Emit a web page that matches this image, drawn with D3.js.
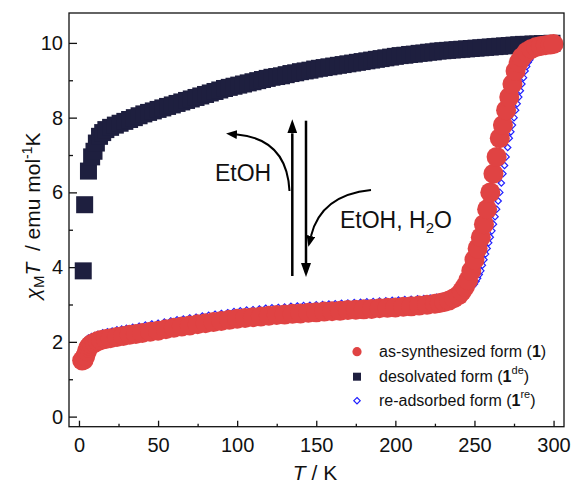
<!DOCTYPE html>
<html>
<head>
<meta charset="utf-8">
<script src="https://cdn.jsdelivr.net/npm/d3@7"></script>
<style>
body { margin: 0; background: #fff; }
svg { font-family: "Liberation Sans", Arial, sans-serif; }
</style>
</head>
<body>
<svg id="chart" width="571" height="486"></svg>
<script>
// desolvated form (1de), navy squares
var desT = [2.7, 3.6, 6, 8, 9.5, 11, 13, 15, 17, 20, 23, 26, 29, 32, 35, 38, 41, 44, 47, 50, 53, 56, 59, 62, 65, 68, 71, 74, 77, 80, 83, 86, 89, 92, 95, 98, 101, 104, 107, 110, 113, 116, 119, 122, 125, 128, 131, 134, 137, 140, 143, 146, 149, 152, 155, 158, 161, 164, 167, 170, 173, 176, 179, 182, 185, 188, 191, 194, 197, 200, 203, 206, 209, 212, 215, 218, 221, 224, 227, 230, 233, 236, 239, 242, 245, 248, 251, 254, 257, 260, 263, 266, 269, 272, 275, 278, 281, 284, 287, 290, 293, 296, 299];
var desChi = [3.9, 5.67, 6.57, 6.95, 7.1, 7.32, 7.5, 7.6, 7.68, 7.74, 7.8, 7.85, 7.9, 7.95, 8.0, 8.05, 8.1, 8.14, 8.18, 8.22, 8.26, 8.3, 8.34, 8.38, 8.42, 8.46, 8.5, 8.54, 8.58, 8.62, 8.66, 8.7, 8.74, 8.78, 8.81, 8.84, 8.87, 8.9, 8.93, 8.96, 8.99, 9.02, 9.05, 9.08, 9.1, 9.12, 9.15, 9.18, 9.2, 9.23, 9.25, 9.27, 9.3, 9.32, 9.34, 9.36, 9.38, 9.4, 9.42, 9.44, 9.46, 9.48, 9.5, 9.52, 9.54, 9.56, 9.58, 9.6, 9.62, 9.64, 9.66, 9.67, 9.69, 9.7, 9.72, 9.73, 9.75, 9.76, 9.78, 9.79, 9.8, 9.81, 9.82, 9.83, 9.84, 9.85, 9.86, 9.87, 9.88, 9.89, 9.9, 9.91, 9.92, 9.93, 9.94, 9.95, 9.96, 9.96, 9.97, 9.97, 9.98, 9.98, 9.99];

// as-synthesized form (1), red circles
var synT = [2, 3, 4, 5, 6, 7, 8, 10, 12, 14, 17, 20, 24, 28, 32, 36, 40, 45, 50, 55, 60, 65, 70, 75, 80, 85, 90, 95, 100, 105, 110, 115, 120, 125, 130, 135, 140, 145, 150, 155, 160, 165, 170, 175, 180, 185, 190, 195, 200, 205, 210, 215, 220, 225, 228, 231, 234, 237, 240, 242, 244, 246, 248, 250, 252, 254, 256, 258, 260, 262, 264, 266, 268, 270, 272, 274, 276, 278, 280, 283, 286, 289, 292, 295, 298, 300];
var synChi = [1.5, 1.52, 1.62, 1.75, 1.85, 1.9, 1.94, 1.98, 2.02, 2.05, 2.08, 2.1, 2.13, 2.16, 2.19, 2.21, 2.24, 2.27, 2.3, 2.34, 2.38, 2.41, 2.44, 2.47, 2.5, 2.53, 2.56, 2.59, 2.62, 2.64, 2.66, 2.68, 2.7, 2.72, 2.73, 2.75, 2.76, 2.78, 2.79, 2.81, 2.82, 2.83, 2.85, 2.86, 2.87, 2.88, 2.9, 2.91, 2.92, 2.94, 2.95, 2.97, 2.99, 3.02, 3.04, 3.07, 3.11, 3.17, 3.25, 3.35, 3.48, 3.65, 3.9, 4.2, 4.5, 4.8, 5.15, 5.55, 6.0, 6.5, 6.95, 7.45, 7.8, 8.2, 8.55, 8.9, 9.25, 9.48, 9.62, 9.76, 9.84, 9.89, 9.92, 9.94, 9.96, 9.97];

// re-adsorbed form (1re), open blue diamonds
var reT = [2, 3, 4, 5, 6, 8, 10, 12, 15, 18, 21, 24, 27, 30, 34, 38, 42, 46, 50, 54, 58, 62, 66, 70, 74, 78, 82, 86, 90, 94, 98, 102, 106, 110, 114, 118, 122, 126, 130, 134, 138, 142, 146, 150, 154, 158, 162, 166, 170, 174, 178, 182, 186, 190, 194, 198, 202, 206, 210, 214, 218, 222, 226, 230, 233, 236, 239, 241, 243, 245, 246, 247, 248, 249, 250, 251, 252, 253, 254, 255, 256, 257, 258, 259, 260, 261, 262, 263, 264, 265, 266, 267, 268, 269, 270, 271, 272, 273, 274, 275, 276, 277, 278, 279, 280, 281, 282, 283, 284, 285, 287, 290, 293, 296, 299];
var reChi = [1.75, 1.9, 2.0, 2.06, 2.1, 2.14, 2.17, 2.2, 2.24, 2.27, 2.29, 2.32, 2.34, 2.36, 2.39, 2.42, 2.45, 2.48, 2.5, 2.53, 2.56, 2.59, 2.61, 2.64, 2.66, 2.69, 2.71, 2.74, 2.76, 2.78, 2.81, 2.83, 2.85, 2.86, 2.88, 2.9, 2.91, 2.92, 2.93, 2.95, 2.96, 2.97, 2.98, 2.99, 3.0, 3.01, 3.02, 3.03, 3.04, 3.05, 3.06, 3.07, 3.08, 3.09, 3.1, 3.11, 3.12, 3.13, 3.14, 3.15, 3.16, 3.17, 3.19, 3.21, 3.23, 3.25, 3.28, 3.3, 3.33, 3.37, 3.39, 3.42, 3.46, 3.5, 3.55, 3.62, 3.7, 3.8, 3.9, 4.05, 4.2, 4.35, 4.5, 4.65, 4.8, 4.97, 5.15, 5.35, 5.55, 5.77, 6.0, 6.25, 6.5, 6.72, 6.95, 7.2, 7.45, 7.62, 7.8, 8.0, 8.2, 8.37, 8.55, 8.72, 8.9, 9.07, 9.25, 9.37, 9.48, 9.55, 9.68, 9.8, 9.88, 9.97, 10.0];

var xMajor = [0, 50, 100, 150, 200, 250, 300];
var xMinor = [25, 75, 125, 175, 225, 275];
var yMajor = [0, 2, 4, 6, 8, 10];
var yMinor = [1, 3, 5, 7, 9];

var svg = d3.select("#chart");

var x = d3.scaleLinear().domain([-6.3, 306.6]).range([69, 564]);
var y = d3.scaleLinear().domain([-0.27, 10.8]).range([426.7, 13]);

var red = "#e04343", navy = "#1e1f3f", blue = "#2020ff";

// axes, ticks inward
svg.append("g")
    .attr("transform", "translate(69,0)")
    .call(d3.axisLeft(y).tickValues(yMajor).tickSize(-8).tickPadding(6).tickFormat(d3.format("d")))
    .call(function(g){ g.select(".domain").remove(); });
svg.append("g")
    .attr("transform", "translate(69,0)")
    .call(d3.axisLeft(y).tickValues(yMinor).tickSize(-4).tickFormat(""))
    .call(function(g){ g.select(".domain").remove(); });
svg.append("g")
    .attr("transform", "translate(0,426.7)")
    .call(d3.axisBottom(x).tickValues(xMajor).tickSize(-6).tickPadding(11).tickFormat(d3.format("d")))
    .call(function(g){ g.select(".domain").remove(); });
svg.append("g")
    .attr("transform", "translate(0,426.7)")
    .call(d3.axisBottom(x).tickValues(xMinor).tickSize(-3).tickFormat(""))
    .call(function(g){ g.select(".domain").remove(); });

svg.selectAll(".tick text")
    .attr("font-size", 20)
    .attr("font-family", "Liberation Sans, Arial, sans-serif")
    .attr("fill", "#111");
svg.selectAll(".tick line").attr("stroke", "#111").attr("stroke-width", 1.3);

// data
svg.append("g").selectAll("rect")
    .data(d3.zip(desT, desChi))
    .enter().append("rect")
    .attr("x", function(d){ return x(d[0]) - 8.5; })
    .attr("y", function(d){ return y(d[1]) - 8.5; })
    .attr("width", 17)
    .attr("height", 17)
    .attr("fill", navy);

var diamond = d3.symbol().type(d3.symbolDiamond2).size(26);
svg.append("g").selectAll("path")
    .data(d3.zip(reT, reChi))
    .enter().append("path")
    .attr("d", diamond)
    .attr("transform", function(d){ return "translate(" + x(d[0]) + "," + y(d[1]) + ")"; })
    .attr("fill", "white")
    .attr("stroke", blue)
    .attr("stroke-width", 1.2);

svg.append("g").selectAll("circle")
    .data(d3.zip(synT, synChi))
    .enter().append("circle")
    .attr("cx", function(d){ return x(d[0]); })
    .attr("cy", function(d){ return y(d[1]); })
    .attr("r", 10)
    .attr("fill", red);

// frame
svg.append("rect")
    .attr("x", 69).attr("y", 13)
    .attr("width", 495).attr("height", 413.7)
    .attr("fill", "none")
    .attr("stroke", "#111")
    .attr("stroke-width", 1.3);

// arrows
var defs = svg.append("defs");
defs.append("marker")
    .attr("id", "headBig")
    .attr("markerUnits", "userSpaceOnUse")
    .attr("viewBox", "0 0 14 10")
    .attr("refX", 0).attr("refY", 5)
    .attr("markerWidth", 14).attr("markerHeight", 10)
    .attr("orient", "auto")
    .append("path").attr("d", "M0,0 L14,5 L0,10 Z").attr("fill", "#000");
defs.append("marker")
    .attr("id", "headSmall")
    .attr("markerUnits", "userSpaceOnUse")
    .attr("viewBox", "0 0 11 9")
    .attr("refX", 0).attr("refY", 4.5)
    .attr("markerWidth", 11).attr("markerHeight", 9)
    .attr("orient", "auto")
    .append("path").attr("d", "M0,0 L11,4.5 L0,9 Z").attr("fill", "#000");

var ann = svg.append("g").attr("fill", "none").attr("stroke", "#000");
ann.append("path").attr("d", "M292.3,276 L292.3,133.3")
    .attr("stroke-width", 2.5).attr("marker-end", "url(#headBig)");
ann.append("path").attr("d", "M306,120.7 L306,263")
    .attr("stroke-width", 2.5).attr("marker-end", "url(#headBig)");
ann.append("path").attr("d", "M289.5,191 Q287,139 237,134.5")
    .attr("stroke-width", 2).attr("marker-end", "url(#headSmall)");
ann.append("path").attr("d", "M371,190 Q321,195 311,236")
    .attr("stroke-width", 2).attr("marker-end", "url(#headSmall)");

svg.append("text")
    .attr("x", 215).attr("y", 181)
    .attr("font-size", 23)
    .attr("fill", "#111")
    .text("EtOH");
var t2 = svg.append("text")
    .attr("x", 340).attr("y", 228.3)
    .attr("font-size", 23)
    .attr("fill", "#111");
t2.append("tspan").text("EtOH, H");
t2.append("tspan").attr("font-size", 15).attr("dy", 5).text("2");
t2.append("tspan").attr("dy", -5).text("O");

// axis titles
var yl = svg.append("text")
    .attr("transform", "translate(40,216) rotate(-90)")
    .attr("text-anchor", "middle")
    .attr("font-size", 21)
    .attr("fill", "#111");
yl.append("tspan").attr("font-style", "italic").text("\u03c7");
yl.append("tspan").attr("font-size", 15).attr("dy", 4).text("M");
yl.append("tspan").attr("font-style", "italic").attr("dy", -4).text("T");
yl.append("tspan").text("\u00a0\u00a0/ emu mol");
yl.append("tspan").attr("font-size", 14).attr("dy", -8).text("-1");
yl.append("tspan").attr("dy", 8).text("K");

var xl = svg.append("text")
    .attr("x", 315).attr("y", 480)
    .attr("text-anchor", "middle")
    .attr("font-size", 21)
    .attr("fill", "#111");
xl.append("tspan").attr("font-style", "italic").text("T");
xl.append("tspan").text(" / K");

// legend
var leg = svg.append("g").attr("font-size", 16).attr("fill", "#111");
leg.append("circle").attr("cx", 357).attr("cy", 351.7).attr("r", 4.6).attr("fill", red);
leg.append("rect").attr("x", 353).attr("y", 372.7).attr("width", 8).attr("height", 8).attr("fill", navy);
leg.append("path").attr("d", diamond)
    .attr("transform", "translate(357,400.7)")
    .attr("fill", "white").attr("stroke", blue).attr("stroke-width", 1.2);

var l1 = leg.append("text").attr("x", 379).attr("y", 356.7);
l1.append("tspan").text("as-synthesized form (");
l1.append("tspan").attr("font-weight", "bold").text("1");
l1.append("tspan").text(")");

var l2 = leg.append("text").attr("x", 379).attr("y", 381.7);
l2.append("tspan").text("desolvated form (");
l2.append("tspan").attr("font-weight", "bold").text("1");
l2.append("tspan").attr("font-size", 11).attr("dy", -8).text("de");
l2.append("tspan").attr("dy", 8).text(")");

var l3 = leg.append("text").attr("x", 379).attr("y", 406);
l3.append("tspan").text("re-adsorbed form (");
l3.append("tspan").attr("font-weight", "bold").text("1");
l3.append("tspan").attr("font-size", 11).attr("dy", -8).text("re");
l3.append("tspan").attr("dy", 8).text(")");
</script>
</body>
</html>
